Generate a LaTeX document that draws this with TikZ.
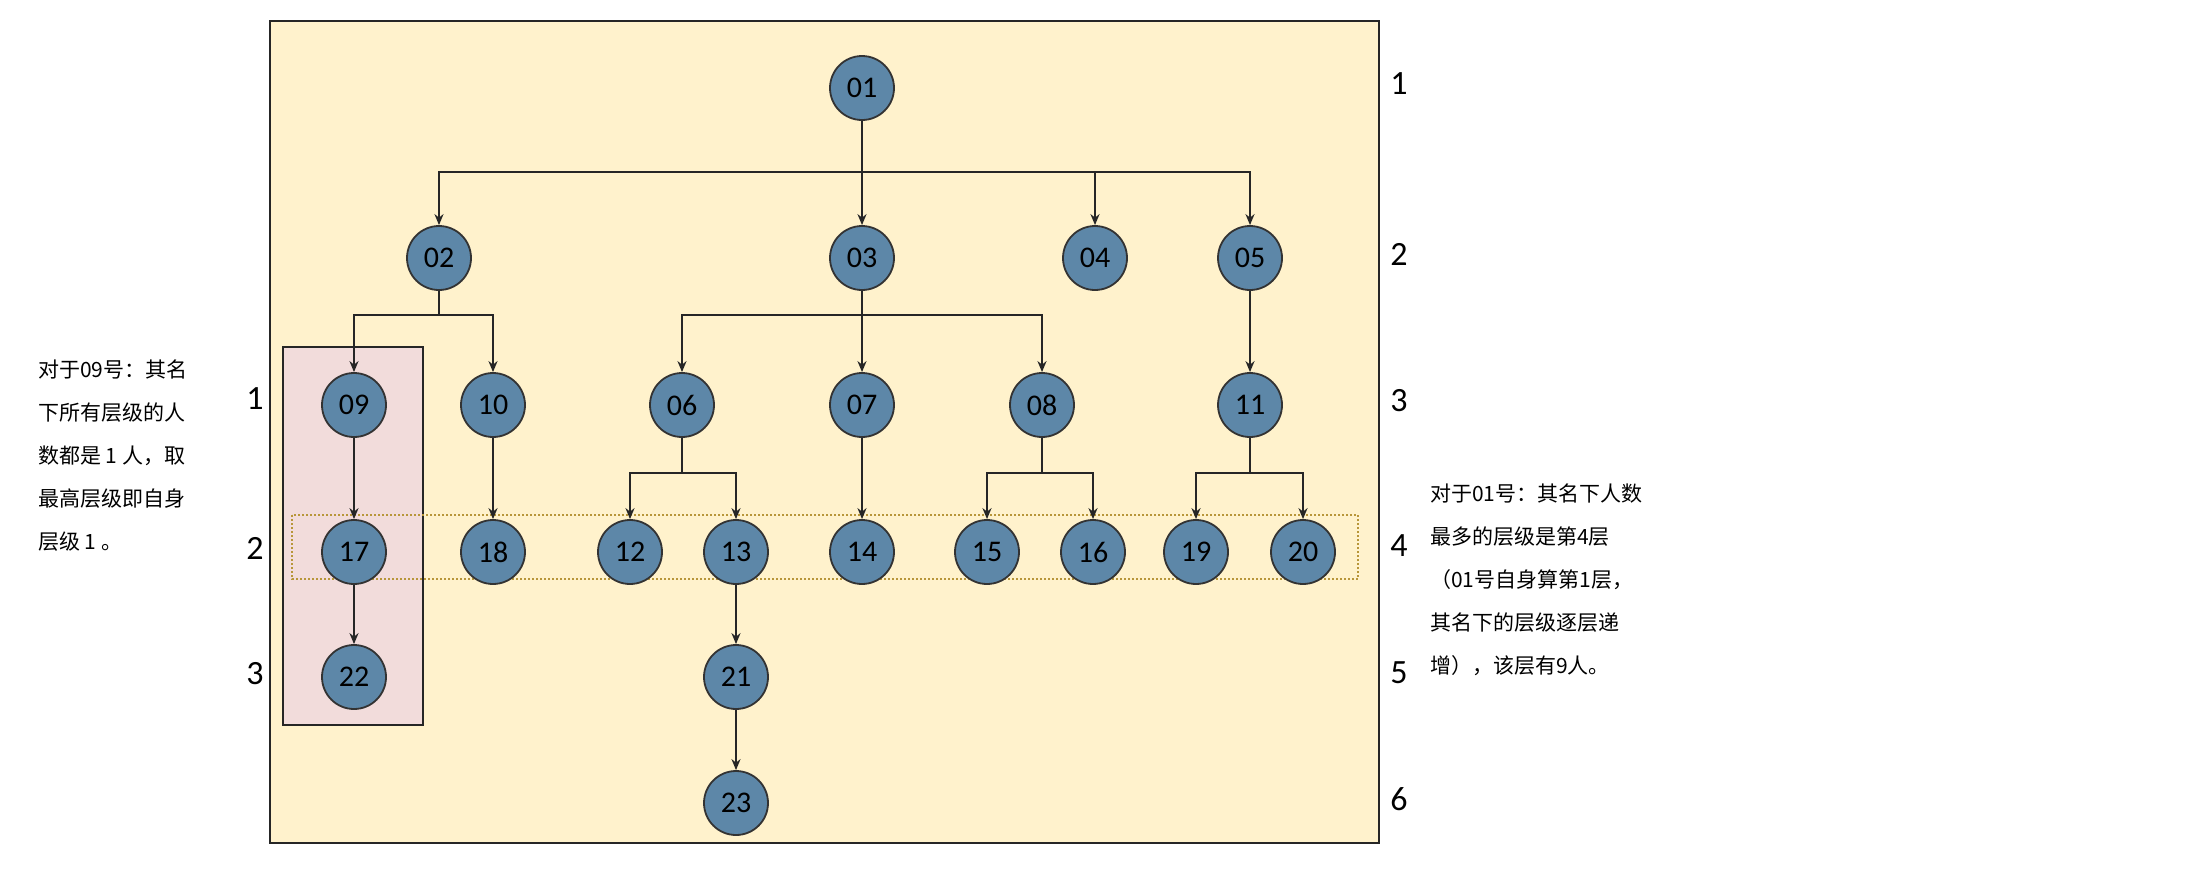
\documentclass[tikz,border=0pt]{standalone}
\usepackage{fontspec}
\setmainfont{Carlito}
\newfontfamily\cjk{Noto Sans CJK SC}
\usetikzlibrary{arrows.meta}
\definecolor{nodefill}{HTML}{5D87A8}
\definecolor{bgyellow}{HTML}{FFF2CC}
\definecolor{pinkbox}{HTML}{F2DCDB}
\definecolor{dotcol}{HTML}{B8963A}
\begin{document}
\begin{tikzpicture}[x=1pt,y=-1pt,
  pnode/.style={circle,draw=black!80,line width=1.8pt,fill=nodefill,minimum size=64pt,inner sep=0pt,font=\fontsize{30}{30}\selectfont},
  conn/.style={line width=1.8pt,draw=black!85,-{Stealth[length=11pt,width=9pt]}},
  lvl/.style={font=\fontsize{34}{34}\selectfont},
  note/.style={font=\cjk\fontsize{21}{43}\selectfont,align=left,anchor=north west,inner sep=0pt}]
\useasboundingbox (0,0) rectangle (2209,884);
\fill[white] (0,0) rectangle (2209,884);
\draw[fill=bgyellow,line width=1.8pt,draw=black!85] (270,21) rectangle (1379,843);
\draw[fill=pinkbox,line width=1.8pt,draw=black!85] (283,347) rectangle (423,725);
\draw[dotcol,line width=2pt,dotted] (292,515) rectangle (1358,579);
% nodes
\node[pnode] (n01) at (862,88) {01};
\node[pnode] (n02) at (439,258) {02};
\node[pnode] (n03) at (862,258) {03};
\node[pnode] (n04) at (1095,258) {04};
\node[pnode] (n05) at (1250,258) {05};
\node[pnode] (n09) at (354,405) {09};
\node[pnode] (n10) at (493,405) {10};
\node[pnode] (n06) at (682,405) {06};
\node[pnode] (n07) at (862,405) {07};
\node[pnode] (n08) at (1042,405) {08};
\node[pnode] (n11) at (1250,405) {11};
\node[pnode] (n17) at (354,552) {17};
\node[pnode] (n18) at (493,552) {18};
\node[pnode] (n12) at (630,552) {12};
\node[pnode] (n13) at (736,552) {13};
\node[pnode] (n14) at (862,552) {14};
\node[pnode] (n15) at (987,552) {15};
\node[pnode] (n16) at (1093,552) {16};
\node[pnode] (n19) at (1196,552) {19};
\node[pnode] (n20) at (1303,552) {20};
\node[pnode] (n22) at (354,677) {22};
\node[pnode] (n21) at (736,677) {21};
\node[pnode] (n23) at (736,803) {23};
% bus connectors
\foreach \c in {n02,n03,n04,n05} \draw[conn] (n01.south) |- ++(0,51) -| (\c.north);
\foreach \c in {n09,n10} \draw[conn] (n02.south) |- ++(0,24) -| (\c.north);
\foreach \c in {n06,n07,n08} \draw[conn] (n03.south) |- ++(0,24) -| (\c.north);
\draw[conn] (n05) -- (n11);
\foreach \c in {n12,n13} \draw[conn] (n06.south) |- ++(0,35) -| (\c.north);
\foreach \c in {n15,n16} \draw[conn] (n08.south) |- ++(0,35) -| (\c.north);
\foreach \c in {n19,n20} \draw[conn] (n11.south) |- ++(0,35) -| (\c.north);
\draw[conn] (n09) -- (n17);
\draw[conn] (n17) -- (n22);
\draw[conn] (n10) -- (n18);
\draw[conn] (n07) -- (n14);
\draw[conn] (n13) -- (n21);
\draw[conn] (n21) -- (n23);
% level labels
\node[lvl] (r1) at (1399,84) {1};
\node[lvl] (r2) at (1399,254) {2};
\node[lvl] (r3) at (1399,401) {3};
\node[lvl] (r4) at (1399,546) {4};
\node[lvl] (r5) at (1399,673) {5};
\node[lvl] (r6) at (1399,799) {6};
\node[lvl] (l1) at (255,399) {1};
\node[lvl] (l2) at (255,548) {2};
\node[lvl] (l3) at (255,674) {3};
% notes
\node[note] (t1) at (38,360) {对于09号：其名\\下所有层级的人\\数都是 1 人，取\\最高层级即自身\\层级 1 。};
\node[note] (t2) at (1430,484) {对于01号：其名下人数\\最多的层级是第4层\\（01号自身算第1层，\\其名下的层级逐层递\\增），该层有9人。};
\end{tikzpicture}
\end{document}
